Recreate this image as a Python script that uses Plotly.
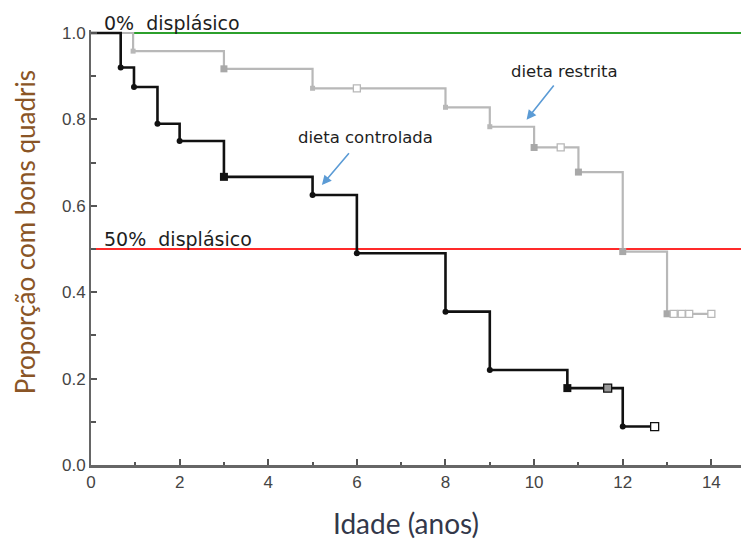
import plotly.graph_objects as go

# ---- data ----
# dieta controlada (black) Kaplan-Meier steps
ctrl_x = [0, 0.67, 0.97, 1.5, 2, 3, 5, 6, 8, 9, 10.75, 12, 12.72]
ctrl_y = [1.0, 0.92, 0.875, 0.79, 0.75, 0.667, 0.625, 0.49, 0.355, 0.22, 0.178, 0.089, 0.089]
ctrl_event_x = [0.67, 0.97, 1.5, 2, 5, 6, 8, 9, 12]
ctrl_event_y = [0.92, 0.875, 0.79, 0.75, 0.625, 0.49, 0.355, 0.22, 0.089]
ctrl_big_x = [3, 10.75]
ctrl_big_y = [0.667, 0.178]
ctrl_cens_x = [11.66]
ctrl_cens_y = [0.178]
ctrl_open_x = [12.72]
ctrl_open_y = [0.089]

# dieta restrita (gray) Kaplan-Meier steps
rest_x = [0, 0.95, 3, 5, 8, 9, 10, 11, 12, 13, 14]
rest_y = [1.0, 0.958, 0.917, 0.872, 0.828, 0.783, 0.735, 0.678, 0.494, 0.35, 0.35]
rest_event_x = [0.95, 5, 8, 9]
rest_event_y = [0.958, 0.872, 0.828, 0.783]
rest_big_x = [3, 10, 11, 12, 13]
rest_big_y = [0.917, 0.735, 0.678, 0.494, 0.35]
rest_open_x = [6, 10.6, 13.15, 13.33, 13.5, 14]
rest_open_y = [0.872, 0.735, 0.35, 0.35, 0.35, 0.35]

ref_levels = [1.0, 0.5]
ref_colors = ["#2ca02c", "#ff2a2a"]
ref_labels = ["0%  displásico", "50%  displásico"]

x_ticks = [0, 2, 4, 6, 8, 10, 12, 14]
y_ticks = [0, 0.2, 0.4, 0.6, 0.8, 1.0]
y_ticklabels = ["0.0", "0.2", "0.4", "0.6", "0.8", "1.0"]

x_range = [0, 15.03]
y_range = [0, 1.0069]

fig = go.Figure()

# reference lines
for lvl, col in zip(ref_levels, ref_colors):
    fig.add_trace(go.Scatter(x=x_range, y=[lvl, lvl], mode="lines",
                             line=dict(color=col, width=2.2), hoverinfo="skip"))

GRAY = "#b8b8b8"
fig.add_trace(go.Scatter(x=rest_x, y=rest_y, mode="lines", line_shape="hv",
                         line=dict(color=GRAY, width=2.2)))
fig.add_trace(go.Scatter(x=rest_event_x, y=rest_event_y, mode="markers",
                         marker=dict(symbol="square", size=5, color=GRAY)))
fig.add_trace(go.Scatter(x=rest_big_x, y=rest_big_y, mode="markers",
                         marker=dict(symbol="square", size=7, color="#a8a8a8")))
fig.add_trace(go.Scatter(x=rest_open_x, y=rest_open_y, mode="markers",
                         marker=dict(symbol="square", size=7, color="white",
                                     line=dict(color=GRAY, width=1.3))))

fig.add_trace(go.Scatter(x=ctrl_x, y=ctrl_y, mode="lines", line_shape="hv",
                         line=dict(color="#111111", width=2.6)))
fig.add_trace(go.Scatter(x=ctrl_event_x, y=ctrl_event_y, mode="markers",
                         marker=dict(symbol="circle", size=6, color="#111111")))
fig.add_trace(go.Scatter(x=ctrl_big_x, y=ctrl_big_y, mode="markers",
                         marker=dict(symbol="square", size=8, color="#111111")))
fig.add_trace(go.Scatter(x=ctrl_cens_x, y=ctrl_cens_y, mode="markers",
                         marker=dict(symbol="square", size=8, color="#999999",
                                     line=dict(color="#111111", width=1.3))))
fig.add_trace(go.Scatter(x=ctrl_open_x, y=ctrl_open_y, mode="markers",
                         marker=dict(symbol="square", size=8, color="white",
                                     line=dict(color="#111111", width=1.3))))

ann_font = dict(family="DejaVu Sans", size=19, color="#1e1e1e")
lab_font = dict(family="DejaVu Sans", size=16.5, color="#1e1e1e")
annotations = []
for lvl, lab in zip(ref_levels, ref_labels):
    annotations.append(dict(x=0.25, y=lvl, xref="x", yref="y", text=lab,
                            showarrow=False, xanchor="left", yanchor="bottom",
                            yshift=-3, font=ann_font))
annotations += [
    dict(x=5.21, y=0.648, ax=5.85, ay=0.725, xref="x", yref="y", axref="x", ayref="y",
         text="", showarrow=True, arrowhead=2, arrowsize=1.2, arrowwidth=1.6,
         arrowcolor="#5b9bd5"),
    dict(x=9.83, y=0.799, ax=10.47, ay=0.882, xref="x", yref="y", axref="x", ayref="y",
         text="", showarrow=True, arrowhead=2, arrowsize=1.2, arrowwidth=1.6,
         arrowcolor="#5b9bd5"),
    dict(x=6.19, y=0.759, xref="x", yref="y", text="dieta controlada", showarrow=False,
         font=lab_font),
    dict(x=10.68, y=0.91, xref="x", yref="y", text="dieta restrita", showarrow=False,
         font=lab_font),
    dict(x=0.473, y=-0.133, xref="paper", yref="paper", text="Idade (anos)",
         xanchor="center", yanchor="middle",
         showarrow=False, font=dict(family="Lato", size=28, color="#33384a")),
    dict(x=-0.1, y=0.536, xref="paper", yref="paper", text="Proporção com bons quadris",
         xanchor="center", yanchor="middle",
         showarrow=False, textangle=-90, font=dict(family="Lato", size=26, color="#8a5526")),
]

tickfont = dict(family="Liberation Sans", size=17, color="#444444")
fig.update_layout(
    width=749, height=539,
    margin=dict(l=83, r=0, t=22, b=82),
    plot_bgcolor="white", paper_bgcolor="white",
    showlegend=False,
    annotations=annotations,
    xaxis=dict(range=x_range, tickmode="array", tickvals=x_ticks,
               ticks="inside", ticklen=6, tickwidth=1.5, tickcolor="#555555",
               minor=dict(ticks="inside", ticklen=3, tickwidth=1.5, tickcolor="#555555", dtick=1),
               showline=True, linecolor="#666666", linewidth=2.5, showgrid=False,
               zeroline=False, tickfont=tickfont),
    yaxis=dict(range=y_range, tickmode="array", tickvals=y_ticks, ticktext=y_ticklabels,
               ticks="inside", ticklen=6, tickwidth=1.5, tickcolor="#555555",
               minor=dict(ticks="inside", ticklen=5, tickwidth=1.5, tickcolor="#555555",
                          tickvals=[0.1, 0.3, 0.5, 0.7, 0.9]),
               showline=True, linecolor="#666666", linewidth=2, showgrid=False,
               zeroline=False, tickfont=tickfont),
)

fig.write_html("out.html")
